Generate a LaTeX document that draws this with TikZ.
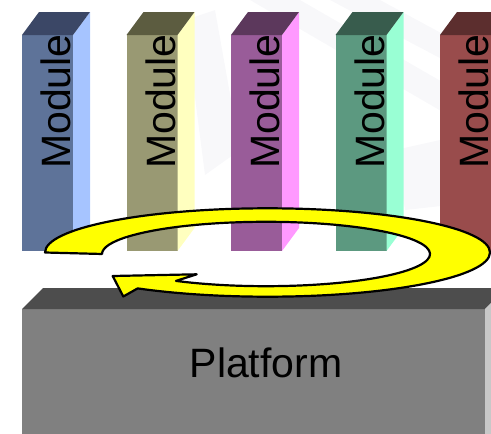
\documentclass[tikz,border=0pt]{standalone}
\usepackage{fontspec}
\setmainfont{Liberation Sans}
\definecolor{m1f}{RGB}{94,115,153}
\definecolor{m1s}{RGB}{166,196,255}
\definecolor{m1t}{RGB}{59,71,102}
\definecolor{m2f}{RGB}{153,153,115}
\definecolor{m2s}{RGB}{255,255,191}
\definecolor{m2t}{RGB}{92,92,64}
\definecolor{m3f}{RGB}{153,92,153}
\definecolor{m3s}{RGB}{255,153,255}
\definecolor{m3t}{RGB}{92,56,92}
\definecolor{m4f}{RGB}{92,153,128}
\definecolor{m4s}{RGB}{153,255,212}
\definecolor{m4t}{RGB}{56,92,77}
\definecolor{m5f}{RGB}{153,76,76}
\definecolor{m5s}{RGB}{255,166,166}
\definecolor{m5t}{RGB}{92,46,46}
\definecolor{platfront}{RGB}{128,128,128}
\definecolor{plattop}{RGB}{77,77,77}
\definecolor{platside}{RGB}{200,200,200}
\definecolor{ringyellow}{RGB}{255,255,0}
\definecolor{bgmark}{RGB}{232,232,240}
\tikzset{
  modtext/.style={rotate=90, anchor=base west, inner sep=0pt, text=black,
    font=\fontsize{41}{41}\selectfont},
  plattext/.style={anchor=base, inner sep=0pt, text=black,
    font=\fontsize{41}{41}\selectfont},
  ringarrow/.style={fill=ringyellow, draw=black, line width=2.2pt, line join=round},
  watermark/.style={fill=bgmark, opacity=0.3}
}
\begin{document}
\begin{tikzpicture}[x=1pt,y=-1pt]
\useasboundingbox (0,0) rectangle (491,434);
\clip (0,0) rectangle (491,434);
% faint background watermark
\fill[watermark] (185,20) -- (215,10) -- (240,150) -- (205,175) -- cycle;
\fill[watermark] (250,0) -- (300,0) -- (491,110) -- (491,140) -- cycle;
\fill[watermark] (330,0) -- (380,0) -- (491,60) -- (491,85) -- cycle;
\fill[watermark] (395,150) -- (440,140) -- (450,205) -- (405,210) -- cycle;
% modules
\foreach \i/\xx/\fc/\sc/\tc in {1/22/m1f/m1s/m1t, 2/126.5/m2f/m2s/m2t, 3/231/m3f/m3s/m3t, 4/335.5/m4f/m4s/m4t, 5/440/m5f/m5s/m5t}{
  \fill[\fc] (\xx,35) rectangle ++(51,216);
  \fill[\sc] (\xx+51,35) -- ++(17,-23) -- ++(0,216) -- ++(-17,23) -- cycle;
  \fill[\tc] (\xx,35) -- ++(17,-23) -- ++(51,0) -- ++(-17,23) -- cycle;
  \node[modtext] (mod\i) at (\xx+48.5,169) {Module};
}
% platform
\fill[platfront] (22,309) rectangle (485,434);
\fill[plattop] (22,309) -- (43,288) -- (506,288) -- (485,309) -- cycle;
\fill[platside] (485,309) -- (506,288) -- (506,434) -- (485,434) -- cycle;
\node[plattext] (platform) at (266,377) {Platform};
% circular arrow
\draw[ringarrow] (45,252.5)
  arc[start angle=180, end angle=485.7, x radius=222.5, y radius=44.2]
  -- (123.3,296.5) -- (112.7,276) -- (196.7,274.3) -- (176,280.9)
  arc[start angle=123.3, end angle=-180, x radius=164, y radius=32.2]
  -- cycle;
\end{tikzpicture}
\end{document}
